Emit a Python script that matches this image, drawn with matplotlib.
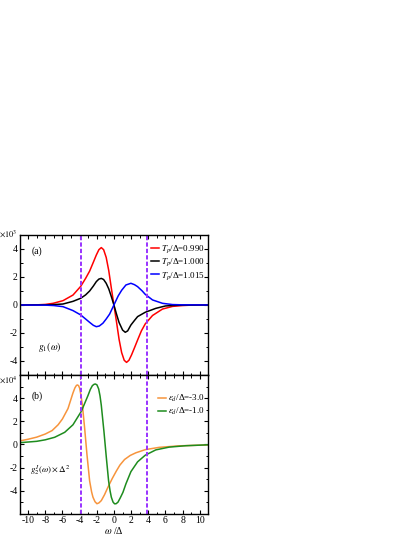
import matplotlib
matplotlib.use("Agg")
import matplotlib.pyplot as plt
from matplotlib.ticker import MultipleLocator, FixedLocator

plt.rcParams['font.family'] = ['Liberation Serif', 'DejaVu Serif']
plt.rcParams['mathtext.fontset'] = 'stix'
plt.rcParams['axes.unicode_minus'] = False

# panel (a): g1(w), in units of 1e3
red_x = [-11, -9, -8, -7.08, -5.93, -4.77, -3.87, -3.3, -2.83, -2.4, -2.05, -1.75, -1.47, -1.2, -0.9,
         -0.6, -0.3, 0.0, 0.3, 0.6, 0.9, 1.2, 1.47, 1.75, 2.05, 2.4, 2.76, 3.2, 3.65, 4.5, 5.66, 6.83, 8, 9, 11]
red_y = [0.0, 0.01, 0.04, 0.12, 0.31, 0.71, 1.33, 1.9, 2.42, 3.05, 3.57, 3.95, 4.1, 3.95, 3.4,
         2.45, 1.2, 0.0, -1.2, -2.45, -3.4, -3.95, -4.1, -3.95, -3.57, -3.05, -2.5, -1.85, -1.35, -0.75, -0.29, -0.1, -0.04, -0.01, 0.0]

black_x = [-11, -8, -7, -5.93, -4.77, -3.87, -3.3, -2.83, -2.4, -2.05, -1.75, -1.47, -1.2, -0.9, -0.6,
           -0.3, 0.0, 0.3, 0.6, 1.01, 1.32, 1.6, 1.98, 2.4, 2.76, 3.65, 4.88, 6.0, 7, 8, 11]
black_y = [0.0, 0.01, 0.03, 0.07, 0.26, 0.48, 0.72, 1.0, 1.35, 1.67, 1.85, 1.9, 1.82, 1.55, 1.15,
           0.6, 0.0, -0.65, -1.25, -1.79, -1.95, -1.85, -1.43, -1.1, -0.83, -0.52, -0.24, -0.07, -0.03, -0.01, 0.0]

blue_x = [-11, -8, -7, -5.93, -4.77, -3.87, -3.3, -2.83, -2.4, -2.05, -1.7, -1.28, -0.9, -0.5, 0.0,
          0.5, 0.9, 1.4, 1.98, 2.4, 2.76, 3.3, 3.65, 4.5, 5.66, 6.83, 8, 11]
blue_y = [0.0, -0.01, -0.04, -0.12, -0.4, -0.71, -1.0, -1.24, -1.45, -1.55, -1.5, -1.3, -1.0, -0.65, 0.0,
          0.65, 1.05, 1.43, 1.55, 1.45, 1.31, 1.0, 0.76, 0.36, 0.12, 0.03, 0.01, 0.0]

# panel (b): g2^I(w)*Delta^2, in units of 1e4
orange_x = [-11, -10, -9, -8, -7.2, -6.5, -6.0, -5.35, -4.77, -4.55, -4.37, -4.25, -4.12, -3.99, -3.85,
            -3.67, -3.41, -3.14, -2.83, -2.6, -2.44, -2.2, -1.98, -1.75, -1.47, -1.1, -0.7, -0.2, 0.28,
            0.7, 1.24, 1.9, 2.56, 3.65, 5.28, 7.6, 11]
orange_y = [0.3, 0.45, 0.63, 0.9, 1.2, 1.7, 2.2, 3.1, 4.45, 4.88, 5.1, 5.14, 5.08, 4.85, 4.3,
            3.38, 1.4, -0.88, -3.15, -4.1, -4.56, -4.95, -5.12, -5.05, -4.85, -4.35, -3.7, -2.95, -2.3,
            -1.78, -1.3, -0.95, -0.72, -0.45, -0.25, -0.12, -0.04]

green_x = [-11, -9, -8, -6.9, -5.73, -4.77, -3.79, -3.02, -2.75, -2.51, -2.3, -2.16, -1.98, -1.78,
           -1.62, -1.47, -1.16, -0.88, -0.62, -0.45, -0.3, -0.1, 0.08, 0.25, 0.47, 0.75, 1.05, 1.4,
           1.98, 2.76, 3.65, 4.88, 6.44, 8.37, 11]
green_y = [0.15, 0.27, 0.4, 0.62, 1.05, 1.7, 2.87, 4.23, 4.75, 5.08, 5.2, 5.22, 5.15, 4.8,
           4.2, 3.38, 1.11, -1.16, -3.15, -4.0, -4.56, -4.98, -5.13, -5.12, -4.99, -4.6, -4.14, -3.4,
           -2.35, -1.5, -0.93, -0.47, -0.23, -0.11, -0.03]

top_labels = [r'$T_p$/Δ=0.990', r'$T_p$/Δ=1.000', r'$T_p$/Δ=1.015']
bot_labels = [r'$\varepsilon_d$/Δ=-3.0', r'$\varepsilon_d$/Δ=-1.0']
dash_x = [-3.8, 3.8]
y_major = [-4, -2, 0, 2, 4]

fig = plt.figure(figsize=(4.15, 5.37), dpi=100)
ax1 = fig.add_axes([0.047, 0.3017, 0.455, 0.2607])
ax2 = fig.add_axes([0.047, 0.043, 0.455, 0.2587])

ax1.plot(red_x, red_y, color='#ff0000', lw=1.1, label=top_labels[0])
ax1.plot(black_x, black_y, color='black', lw=1.1, label=top_labels[1])
ax1.plot(blue_x, blue_y, color='#0000ff', lw=1.1, label=top_labels[2])
ax2.plot(orange_x, orange_y, color='#f7943c', lw=1.1, label=bot_labels[0])
ax2.plot(green_x, green_y, color='#1e8c1e', lw=1.1, label=bot_labels[1])

for ax in (ax1, ax2):
    for xd in dash_x:
        ax.axvline(xd, color='#9933ff', lw=1.4, linestyle=(0, (2.2, 1.1)))
    ax.set_xlim(-11, 11)
    ax.xaxis.set_major_locator(MultipleLocator(2))
    ax.xaxis.set_minor_locator(MultipleLocator(1))
    ax.yaxis.set_major_locator(FixedLocator(y_major))
    ax.yaxis.set_minor_locator(MultipleLocator(1))
    ax.tick_params(which='both', direction='in', top=True, right=True, labelsize=7, pad=1.5)
    ax.tick_params(which='major', length=3, width=0.8)
    ax.tick_params(which='minor', length=1.8, width=0.7)
    for s in ax.spines.values():
        s.set_linewidth(1.0)

leg_kw = dict(loc='upper right', frameon=False, fontsize=6.5, handlelength=0.85,
              handletextpad=0.2, labelspacing=0.15, borderpad=0.1, borderaxespad=0.3)
ax1.legend(bbox_to_anchor=(1.0, 0.965), **leg_kw)
ax2.legend(bbox_to_anchor=(1.0, 0.895), **leg_kw)

ax1.set_ylim(-5, 5)
ax2.set_ylim(-6, 6)
ax1.tick_params(labelbottom=False)

ax1.text(-9.6, 3.85, '(a)', fontsize=7, va='center')
ax2.text(-9.6, 4.15, '(b)', fontsize=7, va='center')
ax1.text(-8.9, -3.0, r'$g_1(\omega)$', fontsize=7, va='center')
ax2.text(-9.8, -2.2, r'$g_2^I(\omega)\times\Delta^2$', fontsize=6.5, va='center')
ax1.text(-0.01, 1.01, r'$\times10^3$', transform=ax1.transAxes, fontsize=6, ha='right', va='center')
ax2.text(-0.01, 0.965, r'$\times10^4$', transform=ax2.transAxes, fontsize=6, ha='right', va='center')

ax2.set_xlabel(r'$\omega$ /Δ', fontsize=7, labelpad=0)

fig.savefig('out.png', dpi=100)
